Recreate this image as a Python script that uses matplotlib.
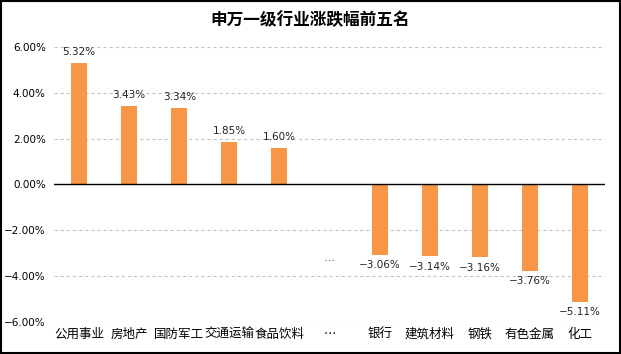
import matplotlib
matplotlib.use("Agg")
import matplotlib.pyplot as plt
from matplotlib.patches import Rectangle

plt.rcParams['font.family'] = ['Noto Sans CJK SC', 'DejaVu Sans']
plt.rcParams['axes.unicode_minus'] = True

categories = ['公用事业', '房地产', '国防军工', '交通运输', '食品饮料', '…',
              '银行', '建筑材料', '钢铁', '有色金属', '化工']
values = [5.32, 3.43, 3.34, 1.85, 1.60, None, -3.06, -3.14, -3.16, -3.76, -5.11]
yticks = [-6, -4, -2, 0, 2, 4, 6]
title = '申万一级行业涨跌幅前五名'
color = '#F79646'

fig = plt.figure(figsize=(6.21, 3.54), dpi=100)
ax = fig.add_axes([54/621, 1-322/354, (605-54)/621, (322-47)/354])

xs = list(range(len(categories)))
for x, v in zip(xs, values):
    if v is None:
        continue
    ax.bar(x, v, width=0.32, color=color, zorder=3)
    lab = f'{v:.2f}%'.replace('-', '\u2212')
    if v >= 0:
        ax.text(x, v + 0.25, lab, ha='center', va='bottom', fontsize=7.5,
                family='DejaVu Sans', color='#222222', zorder=4)
    else:
        ax.text(x, v - 0.25, lab, ha='center', va='top', fontsize=7.5,
                family='DejaVu Sans', color='#222222', zorder=4)

# ellipsis marker in plot area
ax.text(5, -3.4, '…', ha='center', va='center', fontsize=8, color='#333333')

ax.set_xlim(-0.5, len(categories) - 0.5)
ax.set_ylim(-6, 6)
ax.set_yticks(yticks)
ax.set_yticklabels([f'{t:.2f}%'.replace('-', '\u2212') for t in yticks], fontsize=7.5,
                   family='DejaVu Sans')
ax.set_xticks(xs)
ax.set_xticklabels(categories, fontsize=9)
ax.tick_params(length=0, pad=6)
ax.tick_params(axis='x', pad=4)

for t in yticks:
    if t != 0:
        ax.axhline(t, color='#C4C4C4', lw=0.8, ls=(0, (3, 2.5)), zorder=1)
ax.axhline(0, color='black', lw=1.0, zorder=4)

for s in ax.spines.values():
    s.set_visible(False)

fig.text(0.5, 1 - 20/354, title, ha='center', va='center', fontsize=12, fontweight='bold')

fig.patches.append(Rectangle((0.002, 0.003), 0.996, 0.994, transform=fig.transFigure,
                             fill=False, edgecolor='black', lw=1.5))

fig.savefig('out.png', dpi=100)
